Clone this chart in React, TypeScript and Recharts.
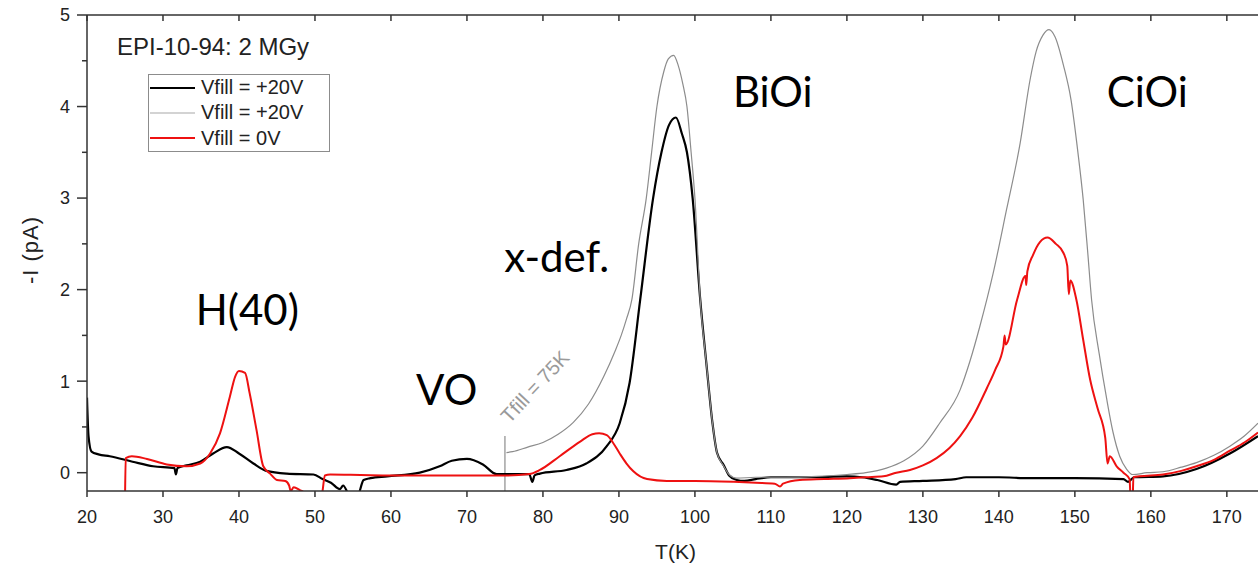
import React from 'react';
import { LineChart, Line, XAxis, YAxis, Legend, ReferenceDot, ReferenceLine } from 'recharts';

const FONT = '"Liberation Sans", Arial, sans-serif';
const PEAK_FONT = 'Lato, "Open Sans", sans-serif';

const xTicks = [20, 30, 40, 50, 60, 70, 80, 90, 100, 110, 120, 130, 140, 150, 160, 170];
const yTicks = [0, 0.5, 1, 1.5, 2, 2.5, 3, 3.5, 4, 4.5, 5];
const seriesNames = ['Vfill = +20V', 'Vfill = +20V', 'Vfill = 0V'];

// [T (K), -I (pA)]
const black20V: [number, number][] = [
  [20.0, 0.82], [20.2, 0.4], [20.6, 0.23], [21.5, 0.2], [23, 0.18], [26, 0.12], [28.7, 0.07],
  [31.5, 0.05], [31.7, -0.02], [31.9, 0.05], [33.1, 0.08], [34.9, 0.12], [36.6, 0.21], [38.4, 0.28],
  [40.0, 0.21], [41.9, 0.1], [43.6, 0.02], [46.3, -0.01], [49.8, -0.02], [51, -0.07], [52.1, -0.11],
  [53.3, -0.18], [53.7, -0.14], [54.6, -0.25], [55.6, -0.25], [56.4, -0.08], [57.3, -0.06],
  [59.5, -0.04], [63.8, 0.0], [66.4, 0.07], [68, 0.13], [70, 0.15], [72.1, 0.09], [73.9, -0.015],
  [78.2, -0.015], [78.6, -0.1], [78.9, -0.03], [79.6, -0.01], [83.1, 0.03], [85.7, 0.1], [88.4, 0.29],
  [90.1, 0.54], [91.4, 0.98], [92.8, 1.89], [94.5, 3.0], [95.6, 3.5], [96.6, 3.8], [97.5, 3.88],
  [98.3, 3.7], [98.95, 3.5], [99.7, 3.0], [100.7, 1.89], [101.5, 1.2], [102.3, 0.55], [102.9, 0.22],
  [103.8, 0.08], [104.5, -0.03], [105.5, -0.08], [106.5, -0.09], [108, -0.07], [110, -0.05],
  [115, -0.05], [120, -0.04], [122, -0.05], [124, -0.08], [126.5, -0.13], [127, -0.1], [130, -0.09],
  [134.3, -0.07], [135.7, -0.05], [140, -0.05], [144, -0.06], [150, -0.06], [156.4, -0.07],
  [157, -0.1], [157.8, -0.05], [161.6, -0.04], [166, 0.04], [170.4, 0.21], [174.1, 0.4],
];

const grey20V: [number, number][] = [
  [75.2, 0.22], [76, 0.23], [78, 0.28], [80, 0.33], [82, 0.42], [84, 0.55], [86, 0.75], [88, 1.05],
  [89.5, 1.33], [90.3, 1.5], [91, 1.68], [91.7, 1.89], [92.6, 2.5], [93.6, 3.0], [94.3, 3.5],
  [95.0, 4.0], [95.9, 4.38], [96.5, 4.52], [97.2, 4.56], [97.8, 4.45], [98.4, 4.25], [98.95, 4.0],
  [99.5, 3.5], [100, 3.0], [100.7, 1.89], [101.5, 1.2], [102.3, 0.55], [102.9, 0.22], [103.8, 0.07],
  [104.5, -0.02], [105.5, -0.06], [108, -0.05], [112, -0.05], [116, -0.04], [120, -0.02],
  [122.5, 0.0], [125.2, 0.05], [127.5, 0.13], [130, 0.29], [132.2, 0.54], [134.9, 0.905],
  [136.2, 1.22], [137.5, 1.6], [139.25, 2.18], [141.0, 2.87], [142.8, 3.6], [144.1, 4.29],
  [144.9, 4.6], [145.8, 4.78], [146.6, 4.84], [147.4, 4.76], [148.5, 4.45],
  [149.5, 4.07], [150.4, 3.5], [151.1, 2.98], [151.7, 2.4], [152.2, 1.89], [153.2, 1.3], [154.2, 0.8],
  [155.0, 0.45], [155.9, 0.18], [156.8, 0.04], [157.6, -0.02], [159.5, 0.0], [161.6, 0.01],
  [164, 0.06], [166, 0.11], [168.3, 0.19], [170.4, 0.29], [172.3, 0.4], [174.1, 0.54],
];

const red0V: [number, number][] = [
  [25.0, -0.3], [25.1, 0.16], [25.9, 0.18], [27.9, 0.15], [30.5, 0.09], [33.1, 0.07], [34.9, 0.1],
  [36.2, 0.21], [37.5, 0.43], [38.8, 0.83], [39.5, 1.05], [40.0, 1.11], [40.8, 1.09], [41.4, 0.87],
  [42.3, 0.47], [43.2, 0.07], [44.1, -0.01], [45.0, -0.08], [46.1, -0.09], [46.6, -0.14],
  [46.8, -0.2], [47.2, -0.16], [48.0, -0.19], [48.6, -0.22], [49, -0.3], [50.8, -0.3], [51.0, -0.2],
  [51.3, -0.03], [52, -0.02], [56, -0.025], [60, -0.03], [64, -0.03], [68, -0.03], [72, -0.03],
  [75, -0.03], [78.2, -0.015], [79.6, 0.03], [82.2, 0.18], [84.9, 0.34], [86.5, 0.42], [87.4, 0.43],
  [88.4, 0.41], [89.2, 0.33], [90.1, 0.21], [91.0, 0.1], [91.9, 0.015], [93.7, -0.07], [96.3, -0.09],
  [100, -0.09], [105.1, -0.1], [108, -0.11], [110.5, -0.12], [111.2, -0.15], [111.6, -0.12],
  [113.8, -0.08], [117, -0.07], [120.4, -0.06], [122.5, -0.05], [124.8, -0.04], [126.5, 0.0],
  [128.3, 0.03], [130, 0.08], [131.8, 0.16], [133.5, 0.27], [134.9, 0.4], [136.5, 0.6], [138.4, 0.92],
  [139.5, 1.12], [140.6, 1.38], [140.75, 1.5], [140.9, 1.4], [142.4, 1.89], [143.5, 2.15],
  [143.6, 2.05], [143.75, 2.2], [144.5, 2.38], [145.4, 2.52], [146.4, 2.57],
  [147.5, 2.5], [148.5, 2.4], [149.0, 2.26], [149.2, 1.95], [149.4, 2.1], [150.2, 1.89],
  [151.1, 1.45], [152.0, 1.02], [153.0, 0.7], [154.0, 0.38], [154.3, 0.1], [154.6, 0.18],
  [155.5, 0.07], [156.4, 0.0], [157.2, -0.07], [157.35, -0.3], [157.6, -0.3], [157.7, -0.05],
  [158.5, -0.04], [161.6, -0.02], [164, 0.02], [166, 0.07], [168.3, 0.14], [170.4, 0.24],
  [172.3, 0.33], [174.1, 0.44],
];

const peakLabels = [
  { text: 'H(40)', t: 34.3, i: 1.61 },
  { text: 'VO', t: 63.3, i: 0.74 },
  { text: 'x-def.', t: 74.9, i: 2.19 },
  { text: 'BiOi', t: 105.0, i: 4.0 },
  { text: 'CiOi', t: 154.2, i: 4.0 },
];

const seriesStyle = [
  { color: '#000000', width: 2.2, legendColor: '#000000' },
  { color: '#8c8c8c', width: 1.2, legendColor: '#a8a8a8' },
  { color: '#ee1111', width: 2, legendColor: '#ee1111' },
];

const toPoints = (rows: [number, number][]) => rows.map(([t, i]) => ({ t, i }));

const Y_TICK_SIZE = 10;
const Y_TICK_MARGIN = 7;

const YTick = ({ x, y, payload }: any) => {
  const v = payload.value;
  const major = Number.isInteger(v);
  const axisX = x + Y_TICK_SIZE + Y_TICK_MARGIN;
  return (
    <g>
      <line x1={axisX - (major ? Y_TICK_SIZE : 5)} x2={axisX} y1={y} y2={y} stroke="#333" strokeWidth={1.5} />
      {major && (
        <text x={x} y={y} dy={6.4} textAnchor="end" fill="#222" fontFamily={FONT} fontSize={18}>
          {v}
        </text>
      )}
    </g>
  );
};

const LegendBox = ({ payload }: any) => (
  <div
    style={{
      border: '1px solid #8c8c8c',
      background: '#fff',
      width: 180,
      height: 76,
      fontFamily: FONT,
      fontSize: 20,
      color: '#222',
    }}
  >
    {(payload || []).map((entry: any, idx: number) => (
      <div key={idx} style={{ display: 'flex', alignItems: 'center', height: 25.3, whiteSpace: 'nowrap' }}>
        <svg width={45} height={6} style={{ marginLeft: 1, marginRight: 6 }}>
          <line x1={0} y1={3} x2={45} y2={3} stroke={seriesStyle[idx].legendColor} strokeWidth={seriesStyle[idx].width} />
        </svg>
        <span>{entry.value}</span>
      </div>
    ))}
  </div>
);

const App: React.FC = () => {
  const series = [black20V, grey20V, red0V].map(toPoints);

  return (
    <div style={{ position: 'absolute', left: 0, top: 0, background: '#fff' }}>
      <LineChart width={1258} height={566} margin={{ top: 14, right: 0, bottom: 0, left: 0 }}>
        <XAxis
          dataKey="t"
          type="number"
          domain={[20, 174.1]}
          allowDataOverflow
          ticks={xTicks}
          interval={0}
          height={75}
          stroke="#333"
          strokeWidth={1.5}
          tickSize={6}
          tickMargin={13}
          tick={{ fill: '#222', fontSize: 18, fontFamily: FONT }}
          label={{
            content: ({ viewBox }: any) => (
              <text
                x={viewBox.x + viewBox.width / 2 + 3}
                y={viewBox.y + 68}
                textAnchor="middle"
                fill="#222"
                fontFamily={FONT}
                fontSize={21}
              >
                T(K)
              </text>
            ),
          }}
        />
        <XAxis
          xAxisId="top"
          orientation="top"
          dataKey="t"
          type="number"
          domain={[20, 174.1]}
          allowDataOverflow
          ticks={xTicks}
          interval={0}
          height={1}
          stroke="#333"
          strokeWidth={1.5}
          tickSize={-6}
          tickFormatter={() => ''}
        />
        <YAxis
          type="number"
          domain={[-0.2, 5]}
          allowDataOverflow
          ticks={yTicks}
          interval={0}
          width={87}
          stroke="#333"
          strokeWidth={1.5}
          tickLine={false}
          tickSize={Y_TICK_SIZE}
          tickMargin={Y_TICK_MARGIN}
          tick={<YTick />}
          label={{
            content: ({ viewBox }: any) => {
              const cx = 30;
              const cy = viewBox.y + viewBox.height / 2 - 3;
              return (
                <text
                  x={cx}
                  y={cy}
                  transform={`rotate(-90, ${cx}, ${cy})`}
                  textAnchor="middle"
                  dominantBaseline="central"
                  fill="#222"
                  fontFamily={FONT}
                  fontSize={22}
                  letterSpacing={1}
                >
                  -I (pA)
                </text>
              );
            },
          }}
        />
        <Legend
          layout="horizontal"
          verticalAlign="middle"
          align="center"
          wrapperStyle={{ left: 148, top: 74, width: 182, height: 78 }}
          content={<LegendBox />}
        />
        <ReferenceLine
          segment={[{ x: 75, y: -0.2 }, { x: 75, y: 0.4 }]}
          stroke="#8c8c8c"
          strokeWidth={1.2}
        />
        {series.map((pts, idx) => (
          <Line
            key={idx}
            data={pts}
            dataKey="i"
            name={seriesNames[idx]}
            type="monotone"
            stroke={seriesStyle[idx].color}
            strokeWidth={seriesStyle[idx].width}
            dot={false}
            activeDot={false}
            isAnimationActive={false}
          />
        ))}
        <ReferenceDot
          x={23.95}
          y={4.565}
          r={0}
          shape={(p: any) => (
            <text x={p.cx} y={p.cy} fill="#222" fontFamily={FONT} fontSize={24}>
              EPI-10-94: 2 MGy
            </text>
          )}
        />
        <ReferenceDot
          x={78.95}
          y={0.94}
          r={0}
          shape={(p: any) => (
            <text
              x={p.cx}
              y={p.cy}
              transform={`rotate(-47, ${p.cx}, ${p.cy})`}
              textAnchor="middle"
              dominantBaseline="central"
              fill="#9a9a9a"
              fontFamily={FONT}
              fontSize={20}
            >
              Tfill = 75K
            </text>
          )}
        />
        {peakLabels.map((lab) => (
          <ReferenceDot
            key={lab.text}
            x={lab.t}
            y={lab.i}
            r={0}
            shape={(p: any) => (
              <text x={p.cx} y={p.cy} fill="#000" fontFamily={PEAK_FONT} fontSize={42}>
                {lab.text}
              </text>
            )}
          />
        ))}
      </LineChart>
    </div>
  );
};

export default App;
